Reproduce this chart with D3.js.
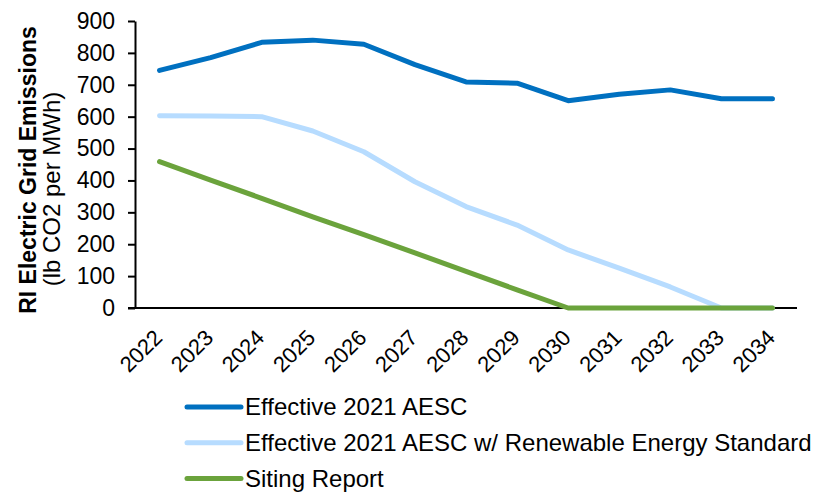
<!DOCTYPE html>
<html>
<head>
<meta charset="utf-8">
<script src="https://cdn.jsdelivr.net/npm/d3@7"></script>
<style>
  body { margin: 0; background: #fff; }
  text { font-family: "Liberation Sans", Arial, sans-serif; }
</style>
</head>
<body>
<svg id="chart"></svg>
<script>
const years = ['2022','2023','2024','2025','2026','2027','2028','2029','2030','2031','2032','2033','2034'];
const aesc = [745, 785, 833, 840, 827, 763, 709, 705, 650, 670, 684, 656, 656];
const aescRes = [603, 602, 600, 555, 490, 396, 318, 260, 182, 125, 66, 0, 0];
const siting = [459, 401, 344, 286, 230, 173, 115, 57, 0, 0, 0, 0, 0];
const yTicks = [0, 100, 200, 300, 400, 500, 600, 700, 800, 900];

const series = [
  {name: 'Effective 2021 AESC', values: aesc, color: '#0070C0'},
  {name: 'Effective 2021 AESC w/ Renewable Energy Standard', values: aescRes, color: '#B7DCFF'},
  {name: 'Siting Report', values: siting, color: '#6BA33C'}
];

const W = 815, H = 493;
const svg = d3.select('#chart').attr('width', W).attr('height', H);

const x = d3.scaleBand()
  .domain(years)
  .range([134, 798]);

const y = d3.scaleLinear()
  .domain([0, 900])
  .range([308, 21]);

// y axis
const yAxis = svg.append('g')
  .attr('transform', 'translate(135,0)')
  .call(d3.axisLeft(y).tickValues(yTicks).tickSize(7).tickPadding(13).tickSizeOuter(0));
yAxis.select('.domain').attr('stroke', '#000').attr('stroke-width', 2);
yAxis.selectAll('.tick line').attr('stroke', '#000').attr('stroke-width', 2);
yAxis.selectAll('.tick text')
  .attr('fill', '#000')
  .style('font-size', '23px');

// x axis
const xAxis = svg.append('g')
  .attr('transform', 'translate(0,308)')
  .call(d3.axisBottom(x).tickSize(0).tickSizeOuter(0));
xAxis.select('.domain').attr('stroke', '#000').attr('stroke-width', 2)
  .attr('d', 'M128,0H797');
xAxis.selectAll('.tick text')
  .attr('fill', '#000')
  .style('font-size', '22px')
  .attr('text-anchor', 'end')
  .attr('dy', null)
  .attr('y', 0)
  .attr('transform', 'translate(4,31) rotate(-45)');

// axis title
svg.append('text')
  .attr('transform', 'translate(36,170) rotate(-90)')
  .attr('text-anchor', 'middle')
  .style('font-size', '23px')
  .style('font-weight', 'bold')
  .text('RI Electric Grid Emissions');
svg.append('text')
  .attr('transform', 'translate(60,189) rotate(-90)')
  .attr('text-anchor', 'middle')
  .style('font-size', '24px')
  .text('(lb CO2 per MWh)');

// lines
const line = d3.line()
  .x((d, i) => x(years[i]) + x.bandwidth() / 2)
  .y(d => y(d));

svg.selectAll('.series')
  .data(series)
  .enter()
  .append('path')
  .attr('class', 'series')
  .attr('fill', 'none')
  .attr('stroke', d => d.color)
  .attr('stroke-width', 5)
  .attr('stroke-linejoin', 'round')
  .attr('stroke-linecap', 'round')
  .attr('d', d => line(d.values));

// legend
const legend = svg.selectAll('.legend')
  .data(series)
  .enter()
  .append('g')
  .attr('class', 'legend')
  .attr('transform', (d, i) => `translate(187,${407 + i * 35.7})`);

legend.append('line')
  .attr('x1', 0).attr('x2', 54)
  .attr('stroke', d => d.color)
  .attr('stroke-width', 5)
  .attr('stroke-linecap', 'round');

legend.append('text')
  .attr('x', 58)
  .attr('dy', '0.35em')
  .style('font-size', '24px')
  .attr('fill', '#000')
  .text(d => d.name);
</script>
</body>
</html>
